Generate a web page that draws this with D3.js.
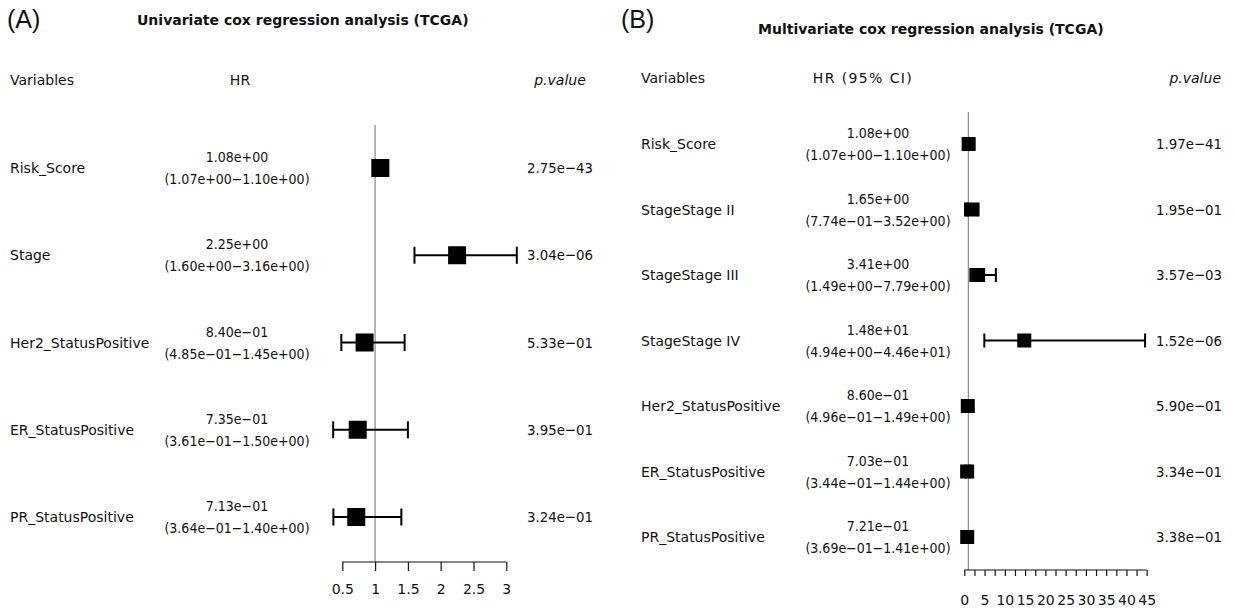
<!DOCTYPE html>
<html>
<head>
<meta charset="utf-8">
<script src="https://cdn.jsdelivr.net/npm/d3@7"></script>
<style>
  html, body { margin: 0; padding: 0; background: #fff; }
  svg text { font-family: "DejaVu Sans", sans-serif; fill: #111; }
  svg text.num { font-family: "DejaVu Sans Condensed", "DejaVu Sans", sans-serif; font-stretch: condensed; }
</style>
</head>
<body>
<svg id="chart" width="1236" height="608"></svg>
<script>
// ---------- Data: Panel A (univariate) ----------
const varsA = ["Risk_Score", "Stage", "Her2_StatusPositive", "ER_StatusPositive", "PR_StatusPositive"];
const hrA   = [1.08, 2.25, 0.840, 0.735, 0.713];
const lowA  = [1.07, 1.60, 0.485, 0.361, 0.364];
const highA = [1.10, 3.16, 1.45, 1.50, 1.40];
const pA    = [2.75e-43, 3.04e-06, 5.33e-01, 3.95e-01, 3.24e-01];
const ticksA = [0.5, 1, 1.5, 2, 2.5, 3];

// ---------- Data: Panel B (multivariate) ----------
const varsB = ["Risk_Score", "StageStage II", "StageStage III", "StageStage IV", "Her2_StatusPositive", "ER_StatusPositive", "PR_StatusPositive"];
const hrB   = [1.08, 1.65, 3.41, 14.8, 0.860, 0.703, 0.721];
const lowB  = [1.07, 0.774, 1.49, 4.94, 0.496, 0.344, 0.369];
const highB = [1.10, 3.52, 7.79, 44.6, 1.49, 1.44, 1.41];
const pB    = [1.97e-41, 1.95e-01, 3.57e-03, 1.52e-06, 5.90e-01, 3.34e-01, 3.38e-01];
const ticksB = [0, 2.5, 5, 7.5, 10, 12.5, 15, 17.5, 20, 22.5, 25, 27.5, 30, 32.5, 35, 37.5, 40, 42.5, 45];

// scientific formatting like R: 1.08e+00, 8.40e-01
function sci(v) {
  let e = Math.floor(Math.log10(Math.abs(v)));
  let m = v / Math.pow(10, e);
  if (Math.round(m * 100) / 100 >= 10) { m /= 10; e += 1; }
  const sign = e < 0 ? "\u2212" : "+";
  const ae = Math.abs(e);
  return m.toFixed(2) + "e" + sign + (ae < 10 ? "0" + ae : "" + ae);
}

const svg = d3.select("#chart");
const FS = 14;

function panel(cfg) {
  const g = svg.append("g");
  const rows = cfg.vars.map((v, i) => ({ v, hr: cfg.hr[i], lo: cfg.lo[i], hi: cfg.hi[i], p: cfg.p[i] }));
  const x = d3.scaleLinear().domain(cfg.domain).range(cfg.xrange);
  const y = d3.scalePoint().domain(cfg.vars).range(cfg.yrange);

  // panel letter and title
  g.append("text").attr("x", cfg.letterX).attr("y", 28)
    .style("font-family", "'Liberation Sans', Arial, sans-serif")
    .attr("font-size", 25).text(cfg.letter);
  g.append("text").attr("x", cfg.titleX).attr("y", cfg.titleY)
    .attr("font-size", 14).attr("font-weight", "bold").text(cfg.title);

  // headers
  g.append("text").attr("x", cfg.labelX).attr("y", cfg.headY).attr("font-size", FS).text("Variables");
  g.append("text").attr("x", cfg.hrHeadX).attr("y", cfg.headY).attr("text-anchor", "middle")
    .attr("font-size", FS).attr("letter-spacing", cfg.hrLetterSp).text(cfg.hrHead);
  g.append("text").attr("x", cfg.pHeadX).attr("y", cfg.headY).attr("text-anchor", cfg.pAnchor)
    .attr("font-size", FS).attr("font-style", "italic").text("p.value");

  // row texts
  const rg = g.selectAll("g.row").data(rows).join("g").attr("class", "row");
  rg.append("text").attr("x", cfg.labelX).attr("y", d => y(d.v) + 5).attr("font-size", FS).text(d => d.v);
  rg.append("text").attr("class", "num").attr("x", cfg.hrX).attr("y", d => y(d.v) - 6).attr("text-anchor", "middle")
    .attr("font-size", FS).text(d => sci(d.hr));
  rg.append("text").attr("class", "num").attr("x", cfg.hrX).attr("y", d => y(d.v) + 16).attr("text-anchor", "middle")
    .attr("font-size", FS).text(d => "(" + sci(d.lo) + "\u2212" + sci(d.hi) + ")");
  rg.append("text").attr("class", "num").attr("x", cfg.pX).attr("y", d => y(d.v) + 5).attr("text-anchor", cfg.pAnchor)
    .attr("font-size", 14.8).text(d => sci(d.p));

  // reference line at HR = 1
  g.append("line").attr("x1", x(1)).attr("x2", x(1)).attr("y1", cfg.refTop).attr("y2", cfg.axisY)
    .attr("stroke", "#8a8a8a").attr("stroke-width", 1.2);

  // CI lines, caps and boxes
  const mk = g.selectAll("g.mark").data(rows).join("g").attr("class", "mark");
  mk.append("line").attr("x1", d => x(d.lo)).attr("x2", d => x(d.hi))
    .attr("y1", d => y(d.v)).attr("y2", d => y(d.v)).attr("stroke", "#000").attr("stroke-width", 2);
  mk.append("line").attr("x1", d => x(d.lo)).attr("x2", d => x(d.lo))
    .attr("y1", d => y(d.v) - cfg.cap / 2).attr("y2", d => y(d.v) + cfg.cap / 2).attr("stroke", "#000").attr("stroke-width", 2);
  mk.append("line").attr("x1", d => x(d.hi)).attr("x2", d => x(d.hi))
    .attr("y1", d => y(d.v) - cfg.cap / 2).attr("y2", d => y(d.v) + cfg.cap / 2).attr("stroke", "#000").attr("stroke-width", 2);
  mk.append("rect").attr("x", d => x(d.hr) - cfg.box / 2).attr("y", d => y(d.v) - cfg.box / 2)
    .attr("width", cfg.box).attr("height", cfg.box).attr("fill", "#000");

  // x axis
  const axis = d3.axisBottom(x).tickValues(cfg.ticks).tickSize(cfg.tickSize).tickPadding(cfg.tickPad)
    .tickFormat(cfg.tickFmt);
  const ag = g.append("g").attr("transform", `translate(0,${cfg.axisY})`).call(axis);
  ag.select(".domain").attr("stroke", "#111").attr("stroke-width", 1.2)
    .attr("d", `M${x(cfg.domain[0])},0H${x(cfg.domain[1])}`);
  ag.selectAll(".tick line").attr("stroke", "#111").attr("stroke-width", 1.2);
  ag.selectAll(".tick text").attr("font-size", FS).attr("fill", "#111");
}

panel({
  vars: varsA, hr: hrA, lo: lowA, hi: highA, p: pA,
  domain: [0.5, 3], xrange: [342.3, 506.3], yrange: [168, 517],
  letter: "(A)", letterX: 7, title: "Univariate cox regression analysis (TCGA)", titleX: 137, titleY: 25,
  labelX: 10, headY: 85, hrHead: "HR", hrHeadX: 240, hrLetterSp: 0, hrX: 237, pX: 560, pHeadX: 560, pAnchor: "middle",
  refTop: 125, axisY: 562, box: 18, cap: 17, ticks: ticksA, tickSize: 9, tickPad: 13,
  tickFmt: d3.format("")
});

panel({
  vars: varsB, hr: hrB, lo: lowB, hi: highB, p: pB,
  domain: [0, 45], xrange: [964.3, 1146.7], yrange: [144, 537],
  letter: "(B)", letterX: 621, title: "Multivariate cox regression analysis (TCGA)", titleX: 758, titleY: 34,
  labelX: 641, headY: 83, hrHead: "HR (95% CI)", hrHeadX: 863, hrLetterSp: 1.4, hrX: 878, pX: 1222, pHeadX: 1221, pAnchor: "end",
  refTop: 112, axisY: 570, box: 14, cap: 14, ticks: ticksB, tickSize: 6, tickPad: 19,
  tickFmt: d => (d % 5 === 0 ? d3.format("")(d) : "")
});
</script>
</body>
</html>
